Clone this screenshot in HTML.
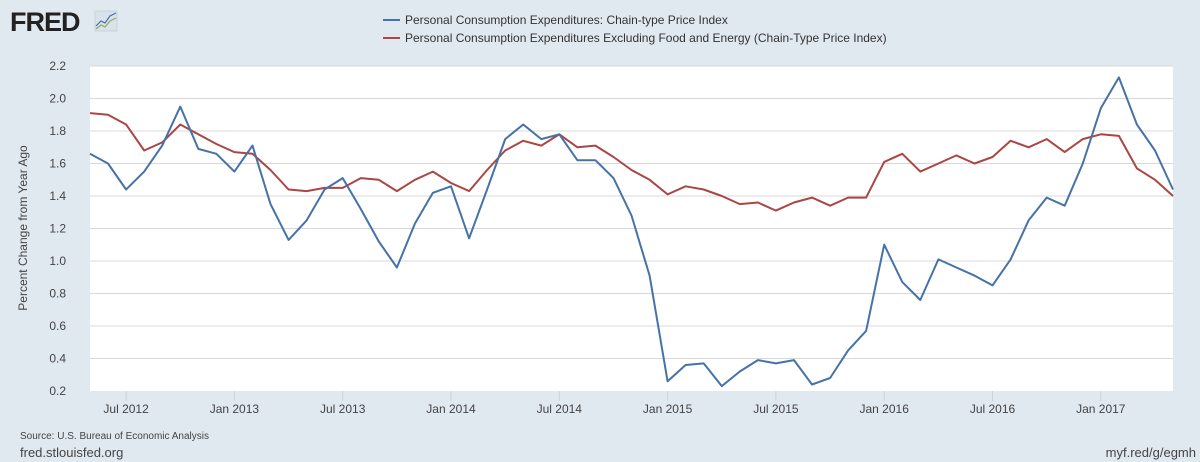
<!DOCTYPE html>
<html><head><meta charset="utf-8"><style>
html,body{margin:0;padding:0;background:#e1e9f0;}
svg{display:block;font-family:"Liberation Sans",sans-serif;}
</style></head><body>
<svg id="c" width="1200" height="462" xmlns="http://www.w3.org/2000/svg">
<rect width="1200" height="462" fill="#e1e9f0"/>
<text x="10" y="31" font-size="27" font-weight="bold" fill="#222" letter-spacing="-1">FRED</text>
<rect x="95" y="11" width="22" height="20" fill="#d9e2ea" stroke="#c8d2da"/>
<polyline points="96,26 101,21 105,23 110,16 116,13" fill="none" stroke="#4572a7" stroke-width="1.2"/>
<polyline points="96,29 101,25 105,27 110,21 116,18" fill="none" stroke="#8aae5a" stroke-width="1.2"/>
<line x1="383" y1="20" x2="400" y2="20" stroke="#4572a7" stroke-width="2"/>
<text x="405" y="24" font-size="12" fill="#333">Personal Consumption Expenditures: Chain-type Price Index</text>
<line x1="383" y1="38" x2="400" y2="38" stroke="#aa4643" stroke-width="2"/>
<text x="405" y="42" font-size="12" fill="#333">Personal Consumption Expenditures Excluding Food and Energy (Chain-Type Price Index)</text>
<rect x="90" y="66" width="1083" height="325" fill="#fff"/>
<g id="grid"></g>
<text transform="translate(27,228) rotate(-90)" text-anchor="middle" font-size="12" fill="#444">Percent Change from Year Ago</text>
<text x="20" y="439" font-size="10" fill="#444">Source: U.S. Bureau of Economic Analysis</text>
<text x="20" y="457" font-size="13" fill="#444">fred.stlouisfed.org</text>
<text x="1196" y="457" font-size="13" fill="#444" text-anchor="end">myf.red/g/egmh</text>
</svg>
<script>
var s=document.getElementById('c'),g=document.getElementById('grid'),ns='http://www.w3.org/2000/svg';
function el(t,a,txt){var e=document.createElementNS(ns,t);for(var k in a)e.setAttribute(k,a[k]);if(txt)e.textContent=txt;return e;}
function Y(v){return 391-(v-0.2)*162.5;}
for(var i=0;i<=10;i++){var v=0.2+i*0.2,y=Y(v);
 if(i>0)g.appendChild(el('line',{x1:90,x2:1173,y1:y,y2:y,stroke:'#d8d8d8','stroke-width':1}));
 g.appendChild(el('text',{x:66,y:y+4,'font-size':12,fill:'#444','text-anchor':'end'},v.toFixed(1)));}
var L=90,dx=(1173-90)/60;
var labs=['Jul 2012','Jan 2013','Jul 2013','Jan 2014','Jul 2014','Jan 2015','Jul 2015','Jan 2016','Jul 2016','Jan 2017'];
for(var i=0;i<labs.length;i++){var x=L+(2+6*i)*dx;
 g.appendChild(el('line',{x1:x,x2:x,y1:391,y2:401,stroke:'#c8d4de'}));
 g.appendChild(el('text',{x:x,y:413,'font-size':12,fill:'#444','text-anchor':'middle'},labs[i]));}
var b=[1.66,1.60,1.44,1.55,1.71,1.95,1.69,1.66,1.55,1.71,1.35,1.13,1.25,1.44,1.51,1.32,1.12,0.96,1.23,1.42,1.46,1.14,1.44,1.75,1.84,1.75,1.78,1.62,1.62,1.51,1.28,0.91,0.26,0.36,0.37,0.23,0.32,0.39,0.37,0.39,0.24,0.28,0.45,0.57,1.10,0.87,0.76,1.01,0.96,0.91,0.85,1.01,1.25,1.39,1.34,1.60,1.94,2.13,1.84,1.68,1.44];
var r=[1.91,1.90,1.84,1.68,1.73,1.84,1.78,1.72,1.67,1.66,1.56,1.44,1.43,1.45,1.45,1.51,1.50,1.43,1.50,1.55,1.48,1.43,1.56,1.68,1.74,1.71,1.78,1.70,1.71,1.64,1.56,1.50,1.41,1.46,1.44,1.40,1.35,1.36,1.31,1.36,1.39,1.34,1.39,1.39,1.61,1.66,1.55,1.60,1.65,1.60,1.64,1.74,1.70,1.75,1.67,1.75,1.78,1.77,1.57,1.50,1.40];
function pl(d,c){return el('polyline',{points:d.map(function(v,i){return (L+i*dx).toFixed(1)+','+Y(v).toFixed(1)}).join(' '),fill:'none',stroke:c,'stroke-width':2,'stroke-linejoin':'round'});}
g.appendChild(pl(r,'#aa4643'));g.appendChild(pl(b,'#4572a7'));
</script>
</body></html>
